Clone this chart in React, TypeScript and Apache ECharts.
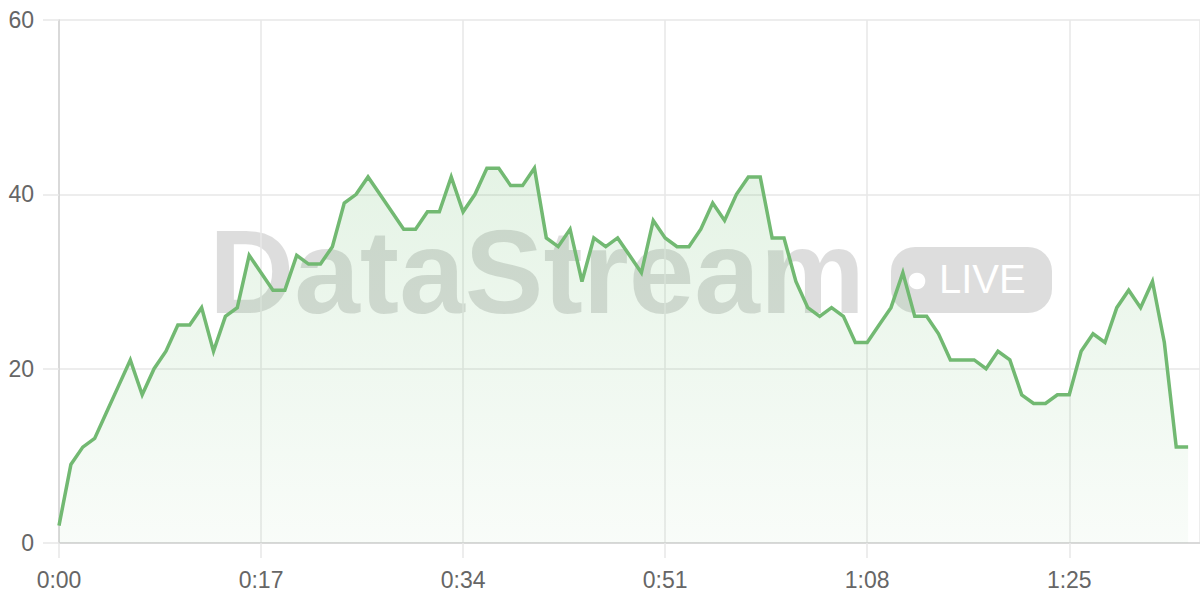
import { useEffect, useRef } from "react";
import * as echarts from "echarts";

// one sample per second
const values: number[] = [
  2, 9, 11, 12, 15, 18, 21, 17, 20, 22,
  25, 25, 27, 22, 26, 27, 33, 31, 29, 29,
  33, 32, 32, 34, 39, 40, 42, 40, 38, 36,
  36, 38, 38, 42, 38, 40, 43, 43, 41, 41,
  43, 35, 34, 36, 30, 35, 34, 35, 33, 31,
  37, 35, 34, 34, 36, 39, 37, 40, 42, 42,
  35, 35, 30, 27, 26, 27, 26, 23, 23, 25,
  27, 31, 26, 26, 24, 21, 21, 21, 20, 22,
  21, 17, 16, 16, 17, 17, 22, 24, 23, 27,
  29, 27, 30, 23, 11, 11,
];

const X_MAX = 96;
const X_STEP = 17;
const Y_MAX = 60;
const Y_STEP = 20;

const LINE_COLOR = "#72b972";
const GRID_COLOR = "#e7e7e7";
const AXIS_COLOR = "#d2d2d2";
const LABEL_COLOR = "#666";
const FONT = '"Liberation Sans", Arial, sans-serif';
const WATERMARK = "rgba(0, 0, 0, 0.135)";

function clock(sec: number): string {
  const m = Math.floor(sec / 60);
  const s = Math.round(sec % 60);
  return `${m}:${String(s).padStart(2, "0")}`;
}

function buildOption(): echarts.EChartsOption {
  return {
    animation: false,
    grid: { left: 59, right: 0, top: 20, bottom: 57, containLabel: false },
    xAxis: {
      type: "value",
      min: 0,
      max: X_MAX,
      interval: X_STEP,
      axisLine: { show: true, lineStyle: { color: AXIS_COLOR, width: 1.5 } },
      axisTick: { show: true, length: 15, lineStyle: { color: GRID_COLOR, width: 1.5 } },
      splitLine: { show: true, lineStyle: { color: GRID_COLOR, width: 1.5 } },
      axisLabel: {
        margin: 25,
        color: LABEL_COLOR,
        fontSize: 23,
        fontFamily: FONT,
        showMaxLabel: false,
        formatter: (v: number) => clock(v),
      },
    },
    yAxis: {
      type: "value",
      min: 0,
      max: Y_MAX,
      interval: Y_STEP,
      axisLine: { show: true, lineStyle: { color: AXIS_COLOR, width: 1.5 } },
      axisTick: { show: true, length: 16, lineStyle: { color: GRID_COLOR, width: 1.5 } },
      splitLine: { show: true, lineStyle: { color: GRID_COLOR, width: 1.5 } },
      axisLabel: { margin: 25, color: LABEL_COLOR, fontSize: 23, fontFamily: FONT },
    },
    graphic: [
      {
        type: "group",
        z: 1,
        silent: true,
        children: [
          {
            type: "text",
            x: 209,
            y: 272,
            style: {
              text: "DataStream",
              font: `bold 118px ${FONT}`,
              fill: WATERMARK,
              textAlign: "left",
              textVerticalAlign: "middle",
            },
          },
          {
            type: "rect",
            shape: { x: 891, y: 247, width: 161, height: 66, r: 24 },
            style: { fill: WATERMARK },
          },
          {
            type: "circle",
            shape: { cx: 917, cy: 281, r: 8.3 },
            style: { fill: "#ffffff" },
          },
          {
            type: "text",
            x: 939,
            y: 279,
            style: {
              text: "LIVE",
              font: `40px ${FONT}`,
              fill: "#ffffff",
              textAlign: "left",
              textVerticalAlign: "middle",
            },
          },
        ],
      },
    ],
    series: [
      {
        type: "line",
        z: 3,
        data: values.map((v, i) => [i, v]),
        showSymbol: false,
        smooth: false,
        lineStyle: { color: LINE_COLOR, width: 3.5, join: "miter" },
        itemStyle: { color: LINE_COLOR },
        areaStyle: {
          color: new echarts.graphic.LinearGradient(0, 0, 0, 1, [
            { offset: 0, color: "rgba(76, 175, 80, 0.21)" },
            { offset: 1, color: "rgba(76, 175, 80, 0.05)" },
          ]),
        },
      },
    ],
  };
}

export default function App(): JSX.Element {
  const ref = useRef<HTMLDivElement | null>(null);

  useEffect(() => {
    const el = ref.current;
    if (!el) return;
    const chart = echarts.init(el, undefined, { renderer: "svg" });
    chart.setOption(buildOption());
    return () => chart.dispose();
  }, []);

  return (
    <div
      ref={ref}
      style={{ position: "fixed", left: 0, top: 0, width: 1200, height: 600, background: "#fff" }}
    />
  );
}
